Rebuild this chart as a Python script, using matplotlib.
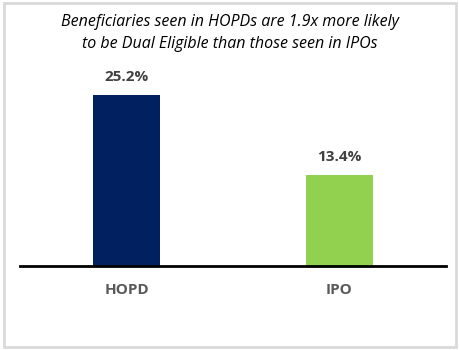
import matplotlib
matplotlib.use("Agg")
import matplotlib.pyplot as plt
from matplotlib.patches import Rectangle

categories = ["HOPD", "IPO"]
values = [25.2, 13.4]
bar_colors = ["#002060", "#92D050"]
title = "Beneficiaries seen in HOPDs are 1.9x more likely\nto be Dual Eligible than those seen in IPOs"

plt.rcParams['font.family'] = ['Open Sans', 'DejaVu Sans']

fig = plt.figure(figsize=(4.6, 3.5), dpi=100)
ax = fig.add_axes([20 / 460, 84 / 350, 426 / 460, 203.7 / 350])

x = range(len(categories))
bars = ax.bar(x, values, width=0.315, color=bar_colors)
for b, v in zip(bars, values):
    ax.text(b.get_x() + b.get_width() / 2, v + 1.6, f"{v:.1f}%", ha='center', va='bottom',
            fontsize=11, fontweight='bold', color='#404040')

ax.set_xlim(-0.5, 1.5)
ax.set_ylim(0, 30)
ax.set_xticks(list(x))
ax.set_xticklabels(categories, fontsize=11, fontweight='bold', color='#595959')
ax.tick_params(axis='x', length=0, pad=12)
ax.set_yticks([])
for s in ['top', 'right', 'left']:
    ax.spines[s].set_visible(False)
ax.spines['bottom'].set_linewidth(2)
ax.spines['bottom'].set_color('black')

fig.text(0.5, 1 - 33 / 350, title, ha='center', va='center', fontsize=11.5,
         style='italic', color='black', linespacing=1.55)

fig.patches.append(Rectangle((4 / 460, 3 / 350), 452 / 460, 344 / 350, transform=fig.transFigure,
                             fill=False, edgecolor='#D9D9D9', linewidth=2))

fig.savefig("out.png", dpi=100)
